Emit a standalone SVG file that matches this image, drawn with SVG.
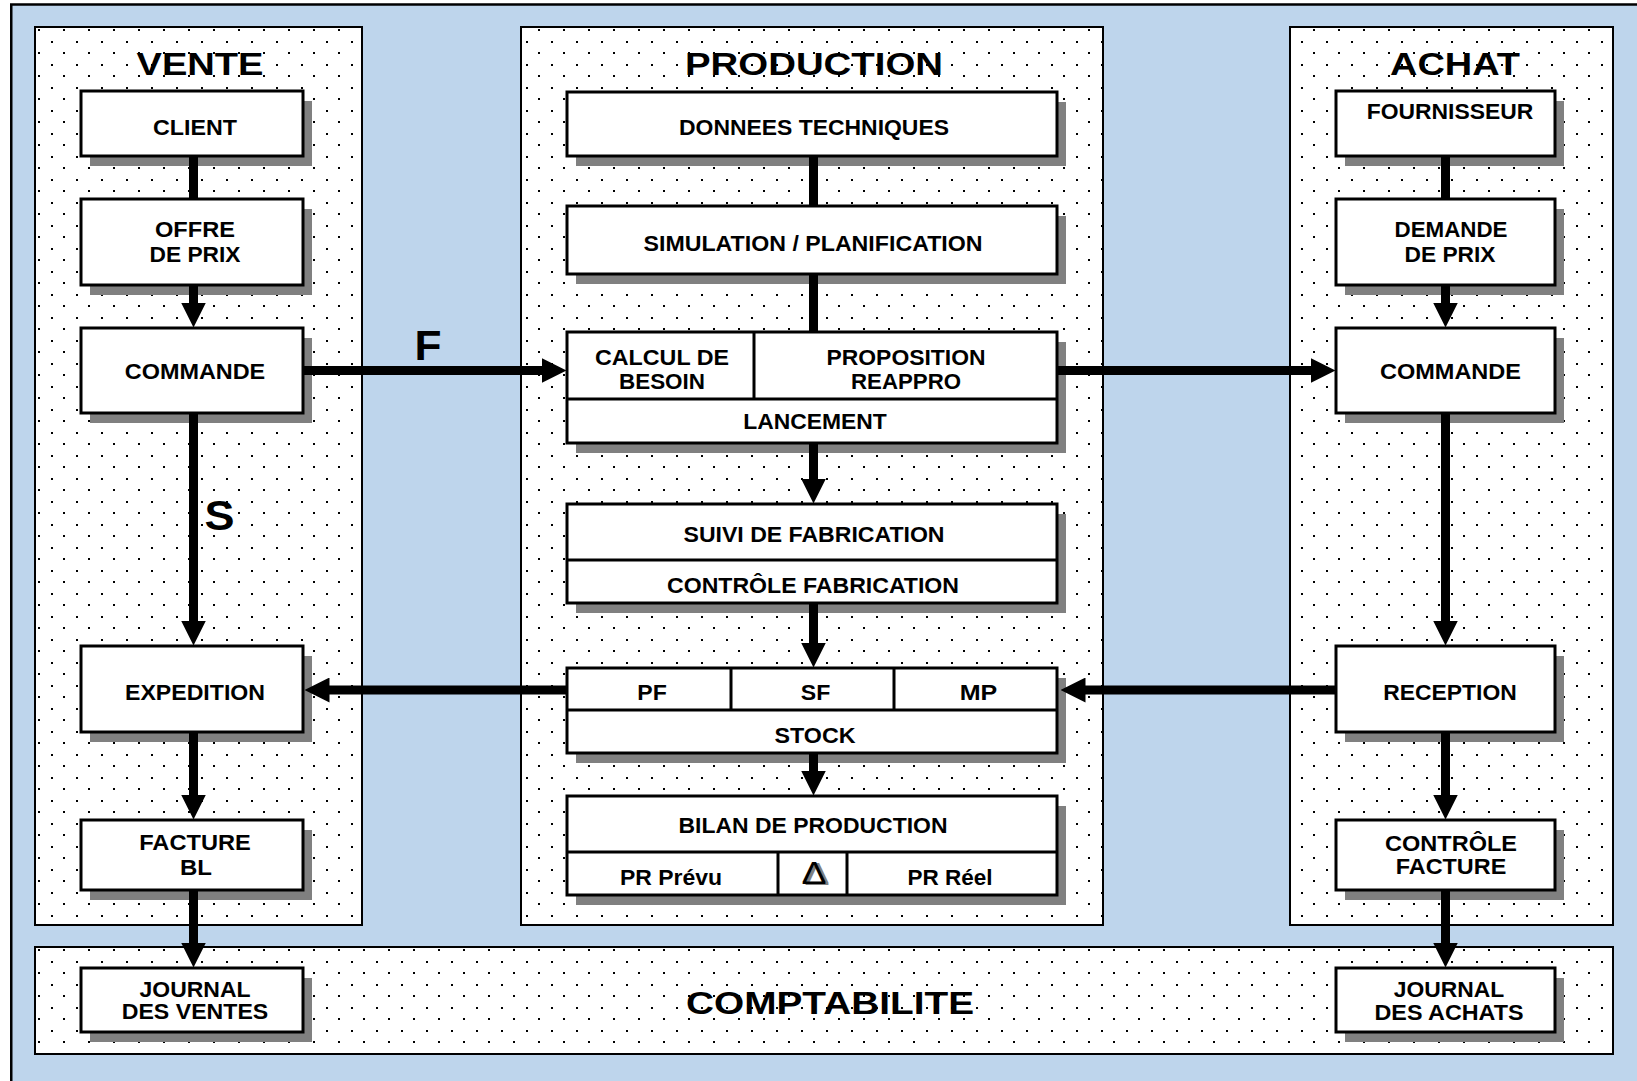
<svg xmlns="http://www.w3.org/2000/svg" width="1637" height="1081" viewBox="0 0 1637 1081">
<style>
.bg{fill:#BED5EC;stroke:#000;stroke-width:2.5}
.panel{fill:url(#dots);stroke:#000;stroke-width:2}
.box{fill:#fff;stroke:#000;stroke-width:3}
.sh{fill:#808080}
.dv{stroke:#000;stroke-width:3;fill:none}
.t{font-family:"Liberation Sans",Arial,sans-serif;font-weight:bold;font-size:22px;text-anchor:middle;fill:#000}
.ttl{font-size:32px}
.lbl{font-size:42px}
.dl{font-weight:normal;font-size:32px}
.conn{stroke:#000;stroke-width:9;fill:none}
.arr{marker-end:url(#ah)}
</style>
<defs>
<pattern id="dots" patternUnits="userSpaceOnUse" x="1" y="18" width="25" height="23">
<rect width="25" height="23" fill="#fff"/>
<rect x="0" y="0" width="2" height="2" fill="#000"/>
<rect x="12" y="11" width="2" height="2" fill="#000"/>
</pattern>
<marker id="ah" markerUnits="userSpaceOnUse" viewBox="0 0 25 25" markerWidth="25" markerHeight="25" refX="0.5" refY="12.5" orient="auto">
<path d="M0,0 L25,12.5 L0,25 z" fill="#000"/>
</marker>
</defs>

<rect id="frame" class="bg" x="11.25" y="4.5" width="1640" height="1090"/>

<g id="panels">
<g id="panel-vente"><rect class="panel" x="35" y="27" width="327" height="898"/><text class="t ttl" x="200" y="75" textLength="127" lengthAdjust="spacingAndGlyphs">VENTE</text></g>
<g id="panel-production"><rect class="panel" x="521" y="27" width="582" height="898"/><text class="t ttl" x="814" y="75" textLength="258" lengthAdjust="spacingAndGlyphs">PRODUCTION</text></g>
<g id="panel-achat"><rect class="panel" x="1290" y="27" width="323" height="898"/><text class="t ttl" x="1455" y="75" textLength="130" lengthAdjust="spacingAndGlyphs">ACHAT</text></g>
<g id="panel-comptabilite"><rect class="panel" x="35" y="947" width="1578" height="107"/><text class="t ttl" x="830" y="1014" textLength="288" lengthAdjust="spacingAndGlyphs">COMPTABILITE</text></g>
</g>

<g id="nodes">
<g id="client"><rect class="sh" x="90" y="101" width="222" height="65"/><rect class="box" x="81" y="91" width="222" height="65"/><text class="t" x="195" y="135" textLength="84" lengthAdjust="spacingAndGlyphs">CLIENT</text></g>
<g id="offre"><rect class="sh" x="90" y="209" width="222" height="86"/><rect class="box" x="81" y="199" width="222" height="86"/><text class="t" x="195" y="237" textLength="80" lengthAdjust="spacingAndGlyphs">OFFRE</text><text class="t" x="195" y="261.5" textLength="91" lengthAdjust="spacingAndGlyphs">DE PRIX</text></g>
<g id="commande-vente"><rect class="sh" x="90" y="338" width="222" height="85"/><rect class="box" x="81" y="328" width="222" height="85"/><text class="t" x="195" y="379" textLength="140.5" lengthAdjust="spacingAndGlyphs">COMMANDE</text></g>
<g id="expedition"><rect class="sh" x="90" y="656" width="222" height="86"/><rect class="box" x="81" y="646" width="222" height="86"/><text class="t" x="195" y="700" textLength="140" lengthAdjust="spacingAndGlyphs">EXPEDITION</text></g>
<g id="facture-bl"><rect class="sh" x="90" y="830" width="222" height="70"/><rect class="box" x="81" y="820" width="222" height="70"/><text class="t" x="195" y="850" textLength="111.5" lengthAdjust="spacingAndGlyphs">FACTURE</text><text class="t" x="196" y="875" textLength="32" lengthAdjust="spacingAndGlyphs">BL</text></g>
<g id="journal-ventes"><rect class="sh" x="90" y="978" width="222" height="64"/><rect class="box" x="81" y="968" width="222" height="64"/><text class="t" x="195" y="996.5" textLength="111" lengthAdjust="spacingAndGlyphs">JOURNAL</text><text class="t" x="195" y="1019" textLength="146.5" lengthAdjust="spacingAndGlyphs">DES VENTES</text></g>

<g id="fournisseur"><rect class="sh" x="1345" y="101" width="219" height="65"/><rect class="box" x="1336" y="91" width="219" height="65"/><text class="t" x="1450" y="119" textLength="166.5" lengthAdjust="spacingAndGlyphs">FOURNISSEUR</text></g>
<g id="demande"><rect class="sh" x="1345" y="209" width="219" height="86"/><rect class="box" x="1336" y="199" width="219" height="86"/><text class="t" x="1451" y="237" textLength="113" lengthAdjust="spacingAndGlyphs">DEMANDE</text><text class="t" x="1450" y="261.5" textLength="91" lengthAdjust="spacingAndGlyphs">DE PRIX</text></g>
<g id="commande-achat"><rect class="sh" x="1345" y="338" width="219" height="85"/><rect class="box" x="1336" y="328" width="219" height="85"/><text class="t" x="1450.5" y="379" textLength="141" lengthAdjust="spacingAndGlyphs">COMMANDE</text></g>
<g id="reception"><rect class="sh" x="1345" y="656" width="219" height="86"/><rect class="box" x="1336" y="646" width="219" height="86"/><text class="t" x="1450" y="700" textLength="133.5" lengthAdjust="spacingAndGlyphs">RECEPTION</text></g>
<g id="controle-facture"><rect class="sh" x="1345" y="830" width="219" height="70"/><rect class="box" x="1336" y="820" width="219" height="70"/><text class="t" x="1451" y="851" textLength="132" lengthAdjust="spacingAndGlyphs">CONTRÔLE</text><text class="t" x="1451" y="874" textLength="110.5" lengthAdjust="spacingAndGlyphs">FACTURE</text></g>
<g id="journal-achats"><rect class="sh" x="1345" y="978" width="219" height="64"/><rect class="box" x="1336" y="968" width="219" height="64"/><text class="t" x="1449" y="997" textLength="110.5" lengthAdjust="spacingAndGlyphs">JOURNAL</text><text class="t" x="1449" y="1020" textLength="149" lengthAdjust="spacingAndGlyphs">DES ACHATS</text></g>

<g id="donnees-techniques"><rect class="sh" x="576" y="102" width="490" height="64"/><rect class="box" x="567" y="92" width="490" height="64"/><text class="t" x="814" y="135" textLength="270" lengthAdjust="spacingAndGlyphs">DONNEES TECHNIQUES</text></g>
<g id="simulation"><rect class="sh" x="576" y="216" width="490" height="68"/><rect class="box" x="567" y="206" width="490" height="68"/><text class="t" x="813" y="251" textLength="339" lengthAdjust="spacingAndGlyphs">SIMULATION / PLANIFICATION</text></g>
<g id="lancement-bloc">
<rect class="sh" x="576" y="342" width="490" height="111"/><rect class="box" x="567" y="332" width="490" height="111"/>
<path class="dv" d="M567,399 H1057 M754,332 V399"/>
<g id="calcul-besoin"><text class="t" x="662" y="365" textLength="134" lengthAdjust="spacingAndGlyphs">CALCUL DE</text><text class="t" x="662" y="389" textLength="86" lengthAdjust="spacingAndGlyphs">BESOIN</text></g>
<g id="proposition-reappro"><text class="t" x="906" y="365" textLength="159" lengthAdjust="spacingAndGlyphs">PROPOSITION</text><text class="t" x="906" y="389" textLength="110" lengthAdjust="spacingAndGlyphs">REAPPRO</text></g>
<g id="lancement"><text class="t" x="815" y="429" textLength="143.5" lengthAdjust="spacingAndGlyphs">LANCEMENT</text></g>
</g>
<g id="suivi-bloc">
<rect class="sh" x="576" y="514" width="490" height="99"/><rect class="box" x="567" y="504" width="490" height="99"/>
<path class="dv" d="M567,560 H1057"/>
<g id="suivi-fabrication"><text class="t" x="814" y="542" textLength="261" lengthAdjust="spacingAndGlyphs">SUIVI DE FABRICATION</text></g>
<g id="controle-fabrication"><text class="t" x="813" y="593" textLength="292" lengthAdjust="spacingAndGlyphs">CONTRÔLE FABRICATION</text></g>
</g>
<g id="stock-bloc">
<rect class="sh" x="576" y="678" width="490" height="85"/><rect class="box" x="567" y="668" width="490" height="85"/>
<path class="dv" d="M567,710 H1057 M731,668 V710 M894,668 V710"/>
<g id="pf"><text class="t" x="652" y="700" textLength="29.5" lengthAdjust="spacingAndGlyphs">PF</text></g>
<g id="sf"><text class="t" x="815.5" y="700" textLength="29.5" lengthAdjust="spacingAndGlyphs">SF</text></g>
<g id="mp"><text class="t" x="978.5" y="700" textLength="37.5" lengthAdjust="spacingAndGlyphs">MP</text></g>
<g id="stock"><text class="t" x="815" y="743" textLength="81" lengthAdjust="spacingAndGlyphs">STOCK</text></g>
</g>
<g id="bilan-bloc">
<rect class="sh" x="576" y="806" width="490" height="99"/><rect class="box" x="567" y="796" width="490" height="99"/>
<path class="dv" d="M567,852 H1057 M778,852 V895 M847,852 V895"/>
<g id="bilan-production"><text class="t" x="813" y="833" textLength="269" lengthAdjust="spacingAndGlyphs">BILAN DE PRODUCTION</text></g>
<g id="pr-prevu"><text class="t" x="671" y="885" textLength="102" lengthAdjust="spacingAndGlyphs">PR Prévu</text></g>
<g id="delta"><text class="t dl" x="817" y="885" textLength="25" lengthAdjust="spacingAndGlyphs" style="fill:#808080">Δ</text><text class="t dl" x="814" y="884" textLength="25" lengthAdjust="spacingAndGlyphs">Δ</text></g>
<g id="pr-reel"><text class="t" x="950" y="885" textLength="85" lengthAdjust="spacingAndGlyphs">PR Réel</text></g>
</g>
</g>

<g id="connectors">
<path class="conn" d="M193.5,156 V199"/>
<path class="conn arr" d="M193.5,285 V303"/>
<path class="conn arr" d="M193.5,413 V621"/>
<path class="conn arr" d="M193.5,732 V795"/>
<path class="conn arr" d="M193.5,890 V943"/>
<path class="conn" d="M1445.5,156 V199"/>
<path class="conn arr" d="M1445.5,285 V303"/>
<path class="conn arr" d="M1445.5,413 V621"/>
<path class="conn arr" d="M1445.5,732 V795"/>
<path class="conn arr" d="M1445.5,890 V943"/>
<path class="conn" d="M813.5,156 V206"/>
<path class="conn" d="M813.5,274 V332"/>
<path class="conn arr" d="M813.5,443 V479"/>
<path class="conn arr" d="M813.5,603 V643"/>
<path class="conn arr" d="M813.5,753 V771"/>
<path class="conn arr" d="M303,370.5 H542"/>
<path class="conn arr" d="M1057,370.5 H1311"/>
<path class="conn arr" d="M567,690 H329"/>
<path class="conn arr" d="M1336,690 H1085"/>
<text class="t lbl" x="428" y="360" textLength="27" lengthAdjust="spacingAndGlyphs">F</text>
<text class="t lbl" x="219.5" y="530" textLength="30" lengthAdjust="spacingAndGlyphs">S</text>
</g>
</svg>
